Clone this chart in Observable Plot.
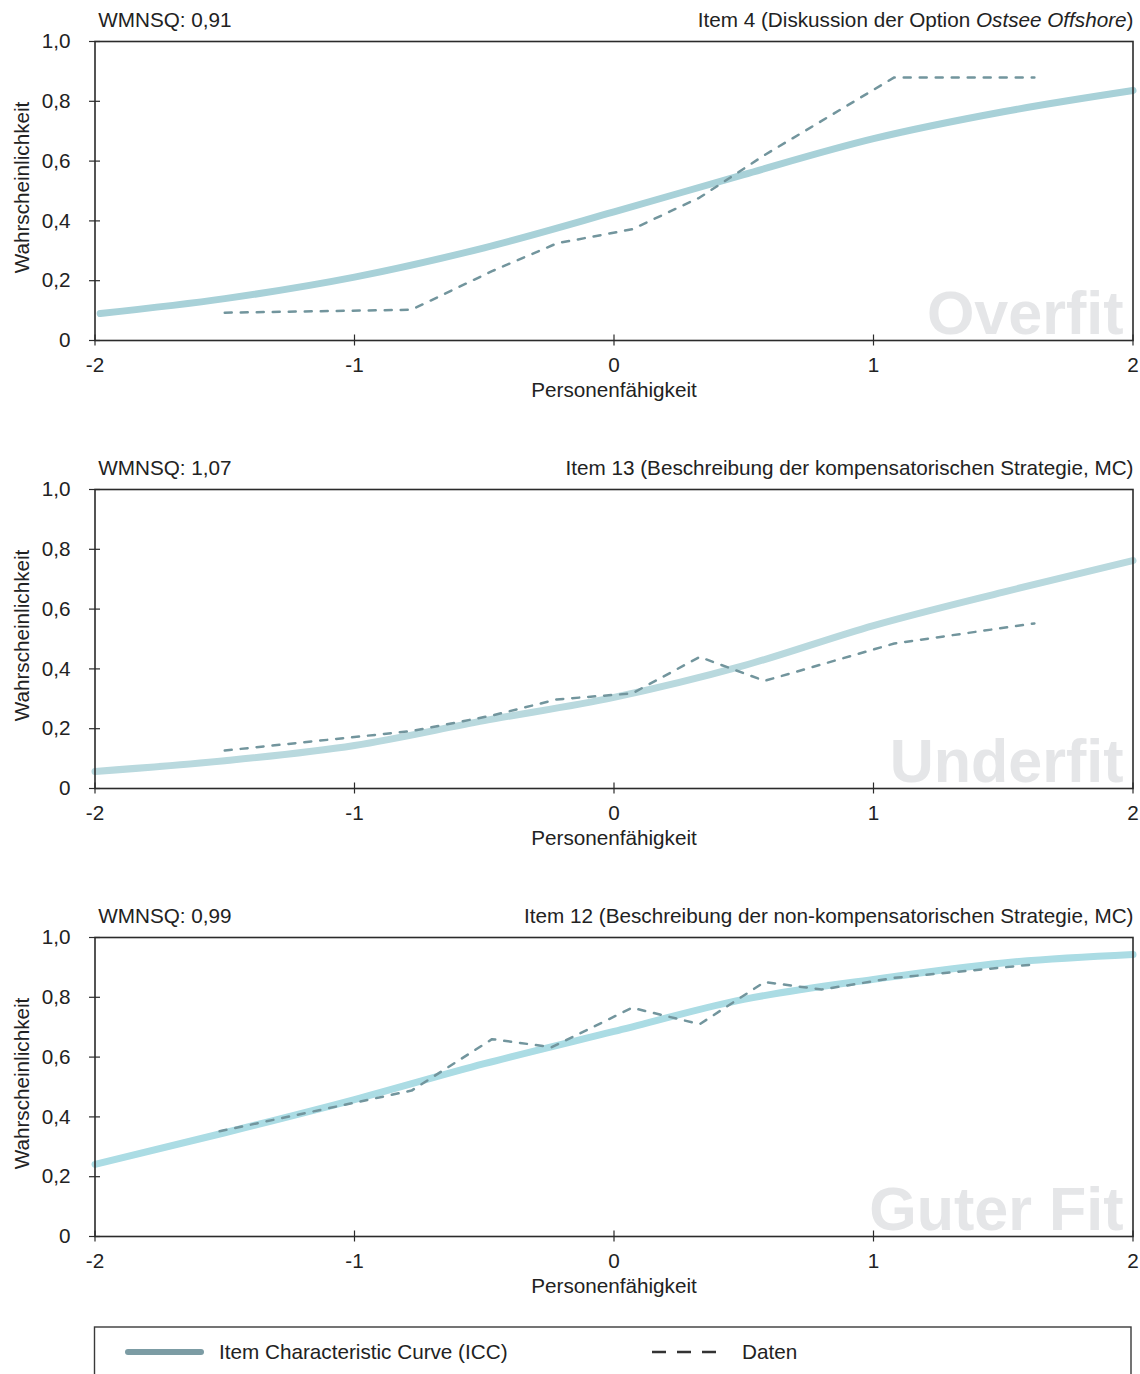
<!DOCTYPE html>
<html><head><meta charset="utf-8">
<script src="https://cdn.jsdelivr.net/npm/d3@7"></script>
<script src="https://cdn.jsdelivr.net/npm/@observablehq/plot@0.6"></script>
<style>
body{margin:0;background:#fff;font-family:"Liberation Sans",Arial,sans-serif;}
#wrap{position:relative;width:1140px;height:1374px;overflow:hidden;background:#fff;}
.panel{position:absolute;left:0;width:1140px;}
.panel svg{display:block;}
#legend{position:absolute;left:0;top:1318px;}
</style></head><body><div id="wrap"></div>
<script>
// ---- data ----
const xTicks = [-2, -1, 0, 1, 2];
const xTickLabels = ["-2", "-1", "0", "1", "2"];
const yTicks = [0, 0.2, 0.4, 0.6, 0.8, 1.0];
const yTickLabels = ["0", "0,2", "0,4", "0,6", "0,8", "1,0"];

const leftTitles = ["WMNSQ: 0,91", "WMNSQ: 1,07", "WMNSQ: 0,99"];
const rightTitles = [
  "Item 4 (Diskussion der Option Ostsee Offshore)",
  "Item 13 (Beschreibung der kompensatorischen Strategie, MC)",
  "Item 12 (Beschreibung der non-kompensatorischen Strategie, MC)"
];
const watermarks = ["Overfit", "Underfit", "Guter Fit"];

// ICC (item characteristic curve)
const iccTheta1 = [-1.98, -1.5, -1, -0.5, 0, 0.5, 1, 1.5, 2];
const iccP1 = [0.09, 0.14, 0.212, 0.31, 0.43, 0.555, 0.675, 0.765, 0.836];
const iccTheta2 = [-2, -1.5, -1, -0.5, 0, 0.5, 1, 1.5, 2];
const iccP2 = [0.057, 0.093, 0.144, 0.227, 0.305, 0.411, 0.545, 0.657, 0.762];
const iccTheta3 = [-2, -1.5, -1, -0.5, 0, 0.5, 1, 1.5, 2];
const iccP3 = [0.241, 0.347, 0.458, 0.578, 0.686, 0.793, 0.86, 0.915, 0.943];

// observed data (dashed)
const datTheta1 = [-1.5, -0.78, -0.47, -0.22, 0.07, 0.33, 0.58, 1.08, 1.62];
const datP1 = [0.093, 0.103, 0.232, 0.325, 0.372, 0.478, 0.62, 0.88, 0.88];
const datTheta2 = [-1.5, -0.78, -0.47, -0.22, 0.07, 0.33, 0.58, 1.08, 1.62];
const datP2 = [0.127, 0.192, 0.244, 0.298, 0.318, 0.44, 0.36, 0.485, 0.552];
const datTheta3 = [-1.52, -0.78, -0.47, -0.24, 0.07, 0.33, 0.58, 0.8, 1.08, 1.62];
const datP3 = [0.352, 0.488, 0.66, 0.633, 0.765, 0.71, 0.851, 0.826, 0.865, 0.91];

const iccColors = ["#a8d1d8", "#b9d9de", "#abdce4"];
const dataColor = "#72959d";
const legendLabels = ["Item Characteristic Curve (ICC)", "Daten"];

const FONT = '"Liberation Sans", Arial, Helvetica, sans-serif';
const FS = 20.7;
const INK = "#222";
const FRAME = "#2b2b2b";

function makePanel(k, height) {
  const iccT = [iccTheta1, iccTheta2, iccTheta3][k];
  const iccP = [iccP1, iccP2, iccP3][k];
  const dT = [datTheta1, datTheta2, datTheta3][k];
  const dP = [datP1, datP2, datP3][k];
  const icc = iccT.map((t, i) => ({t, p: iccP[i]}));
  const dat = dT.map((t, i) => ({t, p: dP[i]}));
  const svg = Plot.plot({
    width: 1140, height,
    marginLeft: 94.5, marginRight: 7.5, marginTop: 41, marginBottom: height - 340,
    x: {domain: [-2, 2], label: null},
    y: {domain: [0, 1], label: null},
    style: {fontFamily: FONT, fontSize: FS + "px", color: FRAME, background: "#fff", overflow: "visible"},
    marks: [
      Plot.text([watermarks[k]], {frameAnchor: "bottom-right", textAnchor: "end", lineAnchor: "bottom",
        dx: -9.5, dy: -7, fontSize: 61, fontWeight: "bold", fill: "#e5e6e8"}),
      Plot.line(icc, {x: "t", y: "p", stroke: iccColors[k], strokeWidth: 7, curve: "monotone-x",
        strokeLinecap: "round", strokeLinejoin: "round"}),
      Plot.line(dat, {x: "t", y: "p", stroke: dataColor, strokeWidth: 2.5, strokeDasharray: "7,9"}),
      Plot.frame({stroke: FRAME, strokeWidth: 1.6}),
      Plot.axisY(yTicks, {tickSize: 11, dx: 5.5, fill: "none", stroke: FRAME, strokeWidth: 1.2, label: null}),
      Plot.axisY(yTicks, {tickSize: 0, tickPadding: 24.5, fill: INK, fontSize: FS, label: null,
        tickFormat: d => yTickLabels[yTicks.indexOf(d)]}),
      Plot.axisX(xTicks, {tickSize: 11, dy: -5.5, fill: "none", stroke: FRAME, strokeWidth: 1.2, label: null}),
      Plot.axisX(xTicks, {tickSize: 0, tickPadding: 17, fill: INK, fontSize: FS, label: null,
        tickFormat: d => xTickLabels[xTicks.indexOf(d)]}),
      Plot.text(["Personenfähigkeit"], {frameAnchor: "bottom", lineAnchor: "top", dy: 41.7, fontSize: FS, fill: INK}),
      Plot.text(["Wahrscheinlichkeit"], {frameAnchor: "left", rotate: -90, textAnchor: "middle", lineAnchor: "middle",
        dx: -72.6, dy: -3.5, fontSize: FS, fill: INK}),
      Plot.text([leftTitles[k]], {frameAnchor: "top-left", textAnchor: "start", lineAnchor: "bottom",
        dx: 3.2, dy: -14.3, fontSize: FS, fill: INK}),
      Plot.text([rightTitles[k]], {frameAnchor: "top-right", textAnchor: "end", lineAnchor: "bottom",
        dx: 0.5, dy: -14.3, fontSize: FS, fill: INK})
    ]
  });
  // italic part of item 4 title
  if (k === 0) {
    d3.select(svg).selectAll("text").filter(function () { return this.textContent === rightTitles[0]; })
      .each(function () {
        const t = d3.select(this);
        t.text(null);
        t.append("tspan").text("Item 4 (Diskussion der Option ");
        t.append("tspan").attr("font-style", "italic").text("Ostsee Offshore");
        t.append("tspan").text(")");
      });
  }
  return svg;
}

const wrap = document.getElementById("wrap");
const tops = [0, 448, 896];
const heights = [448, 448, 420];
tops.forEach((top, k) => {
  const div = document.createElement("div");
  div.className = "panel";
  div.style.top = top + "px";
  div.appendChild(makePanel(k, heights[k]));
  wrap.appendChild(div);
});

// legend
const leg = d3.create("svg").attr("width", 1140).attr("height", 56)
  .style("font-family", FONT).style("display", "block");
leg.append("rect").attr("x", 94.5).attr("y", 9).attr("width", 1036.5).attr("height", 80)
  .attr("fill", "none").attr("stroke", "#3a3a3a").attr("stroke-width", 1.4);
leg.append("line").attr("x1", 128).attr("x2", 201).attr("y1", 34).attr("y2", 34)
  .attr("stroke", "#7c9ca4").attr("stroke-width", 6).attr("stroke-linecap", "round");
leg.append("text").attr("x", 219).attr("y", 41).attr("font-size", FS).attr("fill", INK).text(legendLabels[0]);
leg.append("line").attr("x1", 652).attr("x2", 716).attr("y1", 34).attr("y2", 34)
  .attr("stroke", "#333").attr("stroke-width", 2.5).attr("stroke-dasharray", "14,11");
leg.append("text").attr("x", 742).attr("y", 41).attr("font-size", FS).attr("fill", INK).text(legendLabels[1]);
const legDiv = document.createElement("div");
legDiv.id = "legend";
legDiv.appendChild(leg.node());
wrap.appendChild(legDiv);
</script>
</body></html>
